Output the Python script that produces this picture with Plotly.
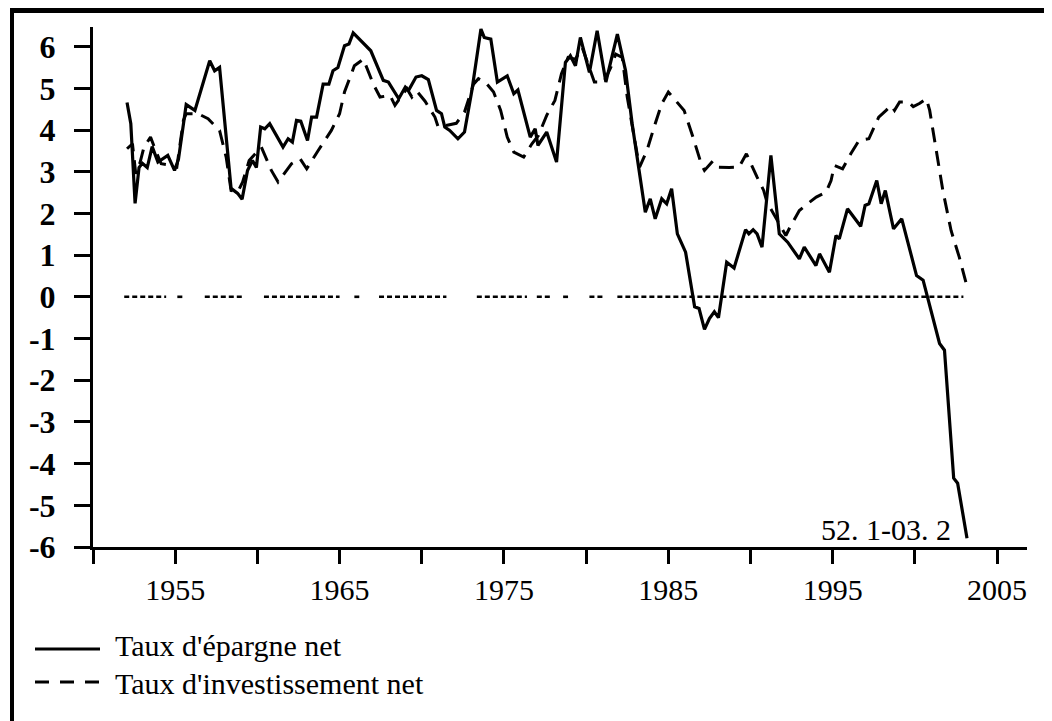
import plotly.graph_objects as go

# ---------------- data ----------------
epargne_years = [1952.07, 1952.3, 1952.56, 1952.8, 1953.0, 1953.3, 1953.6, 1953.95, 1954.55, 1954.96,
                 1955.2, 1955.67, 1956.2, 1956.6, 1957.1, 1957.4, 1957.7, 1958.4, 1958.8, 1959.07,
                 1959.4, 1959.7, 1959.94, 1960.2, 1960.45, 1960.75, 1961.56, 1961.87, 1962.13, 1962.38,
                 1962.64, 1963.05, 1963.3, 1963.6, 1964.0, 1964.35, 1964.6, 1964.9, 1965.3, 1965.57,
                 1965.83, 1966.9, 1967.66, 1967.97, 1968.6, 1969.0, 1969.2, 1969.65, 1970.0, 1970.4,
                 1970.9, 1971.2, 1971.4, 1971.7, 1972.2, 1972.6, 1973.05, 1973.6, 1973.8, 1974.2,
                 1974.6, 1975.2, 1975.6, 1975.85, 1976.6, 1976.9, 1977.07, 1977.6, 1978.2, 1978.74,
                 1979.04, 1979.35, 1979.65, 1980.2, 1980.67, 1981.2, 1981.9, 1982.4, 1982.8, 1983.6,
                 1983.9, 1984.2, 1984.6, 1984.9, 1985.2, 1985.55, 1986.05, 1986.6, 1986.87, 1987.2,
                 1987.5, 1987.8, 1988.05, 1988.55, 1989.0, 1989.7, 1989.9, 1990.16, 1990.4, 1990.7,
                 1991.24, 1991.75, 1992.26, 1992.97, 1993.27, 1993.98, 1994.2, 1994.8, 1995.2, 1995.4,
                 1995.9, 1996.7, 1996.97, 1997.2, 1997.68, 1997.95, 1998.2, 1998.7, 1999.2, 2000.1,
                 2000.5, 2001.5, 2001.8, 2002.36, 2002.6, 2003.17]
epargne = [4.66, 4.15, 2.24, 3.1, 3.2, 3.1, 3.6, 3.23, 3.39, 3.03,
           3.3, 4.61, 4.47, 5.03, 5.66, 5.42, 5.5, 2.6, 2.48, 2.34,
           3.03, 3.27, 3.1, 4.07, 4.03, 4.15, 3.59, 3.79, 3.71, 4.23,
           4.21, 3.75, 4.31, 4.31, 5.1, 5.1, 5.42, 5.5, 6.02, 6.06,
           6.33, 5.9, 5.19, 5.15, 4.75, 5.03, 4.95, 5.27, 5.3, 5.21,
           4.47, 4.39, 4.07, 3.99, 3.79, 3.95, 4.95, 6.42, 6.22, 6.18,
           5.15, 5.3, 4.87, 4.96, 3.83, 4.03, 3.63, 3.95, 3.23, 5.62,
           5.78, 5.54, 6.22, 5.38, 6.38, 5.15, 6.3, 5.42, 4.15, 2.03,
           2.35, 1.87, 2.35, 2.23, 2.59, 1.51, 1.07, -0.24, -0.28, -0.78,
           -0.52, -0.36, -0.5, 0.83, 0.69, 1.61, 1.51, 1.61, 1.51, 1.19,
           3.39, 1.51, 1.31, 0.91, 1.19, 0.75, 1.03, 0.59, 1.47, 1.39,
           2.11, 1.69, 2.19, 2.23, 2.79, 2.23, 2.55, 1.63, 1.87, 0.51,
           0.4, -1.12, -1.28, -4.35, -4.47, -5.79]

invest_years = [1952.07, 1952.4, 1952.6, 1952.85, 1953.1, 1953.5, 1953.85, 1954.15, 1954.75, 1955.1,
                1955.5, 1955.67, 1956.4, 1957.0, 1957.7, 1958.1, 1958.4, 1958.8, 1959.1, 1959.5,
                1960.24, 1960.85, 1961.26, 1962.07, 1962.6, 1963.0, 1963.7, 1964.5, 1965.0, 1965.3,
                1965.9, 1966.45, 1967.05, 1967.46, 1968.07, 1968.37, 1968.8, 1969.1, 1969.4, 1969.7,
                1970.2, 1970.8, 1971.0, 1971.6, 1972.1, 1972.6, 1973.15, 1973.45, 1973.86, 1974.37,
                1974.8, 1975.2, 1975.6, 1976.2, 1976.7, 1977.1, 1977.6, 1978.1, 1978.5, 1978.9,
                1979.35, 1979.76, 1980.5, 1981.07, 1981.5, 1981.8, 1982.2, 1982.5, 1982.8, 1983.1,
                1983.25, 1983.7, 1984.2, 1984.6, 1985.0, 1985.45, 1985.96, 1986.5, 1987.0, 1987.2,
                1987.7, 1988.0, 1988.7, 1989.3, 1989.75, 1990.4, 1990.8, 1991.0, 1991.4, 1991.85,
                1992.15, 1992.4, 1992.97, 1993.6, 1994.0, 1994.6, 1994.9, 1995.1, 1995.6, 1996.1,
                1996.6, 1997.2, 1997.4, 1997.8, 1998.25, 1998.55, 1998.76, 1999.07, 1999.6, 1999.9,
                2000.3, 2000.7, 2000.9, 2001.3, 2001.7, 2002.2, 2002.7, 2003.1]
invest = [3.55, 3.67, 2.95, 3.2, 3.59, 3.83, 3.47, 3.19, 3.15, 3.11,
          4.23, 4.39, 4.39, 4.27, 3.99, 3.35, 2.55, 2.51, 2.75, 3.27,
          3.59, 3.03, 2.75, 3.19, 3.31, 3.07, 3.51, 3.99, 4.39, 4.91,
          5.54, 5.7, 5.1, 4.79, 4.83, 4.59, 4.83, 4.99, 4.79, 4.93,
          4.69, 4.31, 4.07, 4.11, 4.16, 4.43, 5.1, 5.23, 5.15, 4.91,
          4.47, 3.83, 3.47, 3.35, 3.67, 3.87, 4.35, 4.71, 5.35, 5.74,
          5.7, 5.98, 5.15, 5.15, 5.5, 5.82, 5.74, 4.79, 4.07, 3.43,
          3.11, 3.51, 4.15, 4.63, 4.91, 4.71, 4.47, 3.83, 3.19, 3.03,
          3.25, 3.11, 3.1, 3.11, 3.43, 2.87, 2.55, 2.27, 1.99, 1.67,
          1.47, 1.67, 2.07, 2.27, 2.39, 2.51, 2.79, 3.15, 3.07, 3.43,
          3.75, 3.79, 3.95, 4.31, 4.47, 4.59, 4.47, 4.67, 4.67, 4.56,
          4.64, 4.75, 4.47, 3.51, 2.55, 1.59, 0.95, 0.35]

# zero reference line, drawn in pieces as in the reference (start, end years)
zero_segments = [(1951.9, 1954.45), (1955.13, 1955.44), (1956.8, 1959.2), (1960.4, 1965.0),
                 (1965.9, 1966.2), (1967.4, 1971.5), (1973.35, 1976.4), (1977.0, 1977.8),
                 (1978.6, 1978.9), (1980.2, 1981.1), (1981.9, 2002.95)]

x_tickvals = [1950, 1955, 1960, 1965, 1970, 1975, 1980, 1985, 1990, 1995, 2000, 2005]
x_ticktext = ["", "1955", "", "1965", "", "1975", "", "1985", "", "1995", "", "2005"]
y_tickvals = [6, 5, 4, 3, 2, 1, 0, -1, -2, -3, -4, -5, -6]
y_ticktext = ["6", "5", "4", "3", "2", "1", "0", "-1", "-2", "-3", "-4", "-5", "-6"]

series_names = ["Taux d'épargne net", "Taux d'investissement net"]
period_label = "52. 1-03. 2"

# ---------------- layout geometry ----------------
PAGE_OFF = 8                      # default body margin of the html page
W, H = 1052 - PAGE_OFF, 721 - PAGE_OFF
ML, MR, MT, MB = 85, 25, 19, 174
PW, PH = W - ML - MR, H - MT - MB
FONT = "Liberation Serif, Times New Roman, serif"


def xp(px):  # page pixel -> paper fraction
    return (px - PAGE_OFF - ML) / PW


def yp(py):
    return (H - MB - (py - PAGE_OFF)) / PH


zx, zy = [], []
for a, b in zero_segments:
    zx += [a, b, None]
    zy += [0, 0, None]

fig = go.Figure()
fig.add_trace(go.Scatter(x=zx, y=zy, mode="lines", line=dict(color="black", width=2.6, dash="5px,3px"),
                         showlegend=False, hoverinfo="skip"))
fig.add_trace(go.Scatter(x=invest_years, y=invest, mode="lines", name=series_names[1],
                         line=dict(color="black", width=3, dash="15px,9px"), showlegend=False))
fig.add_trace(go.Scatter(x=epargne_years, y=epargne, mode="lines", name=series_names[0],
                         line=dict(color="black", width=3.2), showlegend=False))

shapes = [
    # outer frame (top and left only, as in the reference)
    dict(type="line", xref="paper", yref="paper", x0=xp(10), x1=xp(1060), y0=yp(10.5), y1=yp(10.5),
         line=dict(color="black", width=5)),
    dict(type="line", xref="paper", yref="paper", x0=xp(12), x1=xp(12), y0=yp(8), y1=yp(730),
         line=dict(color="black", width=4)),
    # legend samples
    dict(type="line", xref="paper", yref="paper", x0=xp(35), x1=xp(100), y0=yp(649), y1=yp(649),
         line=dict(color="black", width=3.2)),
    dict(type="line", xref="paper", yref="paper", x0=xp(35), x1=xp(101), y0=yp(682), y1=yp(682),
         line=dict(color="black", width=3.2, dash="14px,11px")),
]

annotations = [
    dict(text=series_names[0], xref="paper", yref="paper", x=xp(113), y=yp(645), xanchor="left",
         yanchor="middle", showarrow=False, font=dict(family=FONT, size=30, color="black")),
    dict(text=series_names[1], xref="paper", yref="paper", x=xp(113), y=yp(683), xanchor="left",
         yanchor="middle", showarrow=False, font=dict(family=FONT, size=30, color="black")),
    dict(text=period_label, xref="paper", yref="paper", x=xp(953), y=yp(529), xanchor="right",
         yanchor="middle", showarrow=False, font=dict(family=FONT, size=30, color="black")),
]

fig.update_layout(
    width=W, height=H,
    margin=dict(l=ML, r=MR, t=MT, b=MB, pad=0),
    paper_bgcolor="white", plot_bgcolor="white",
    showlegend=False,
    shapes=shapes, annotations=annotations,
    font=dict(family=FONT, color="black"),
    xaxis=dict(range=[1950, 2006.82], tickvals=x_tickvals, ticktext=x_ticktext,
               showline=True, linecolor="black", linewidth=3, mirror=False,
               ticks="outside", ticklen=14, tickwidth=2.5, tickcolor="black",
               showgrid=False, zeroline=False, tickfont=dict(family=FONT, size=30, color="black"),
               ticklabelstandoff=0),
    yaxis=dict(range=[-6, 6.47], tickvals=y_tickvals, ticktext=y_ticktext,
               showline=True, linecolor="black", linewidth=3,
               ticks="outside", ticklen=16, tickwidth=2.5, tickcolor="black",
               showgrid=False, zeroline=False,
               tickfont=dict(family=FONT, size=32, color="black", weight="bold"),
               ticklabelstandoff=12),
)

fig.write_html("out.html")
